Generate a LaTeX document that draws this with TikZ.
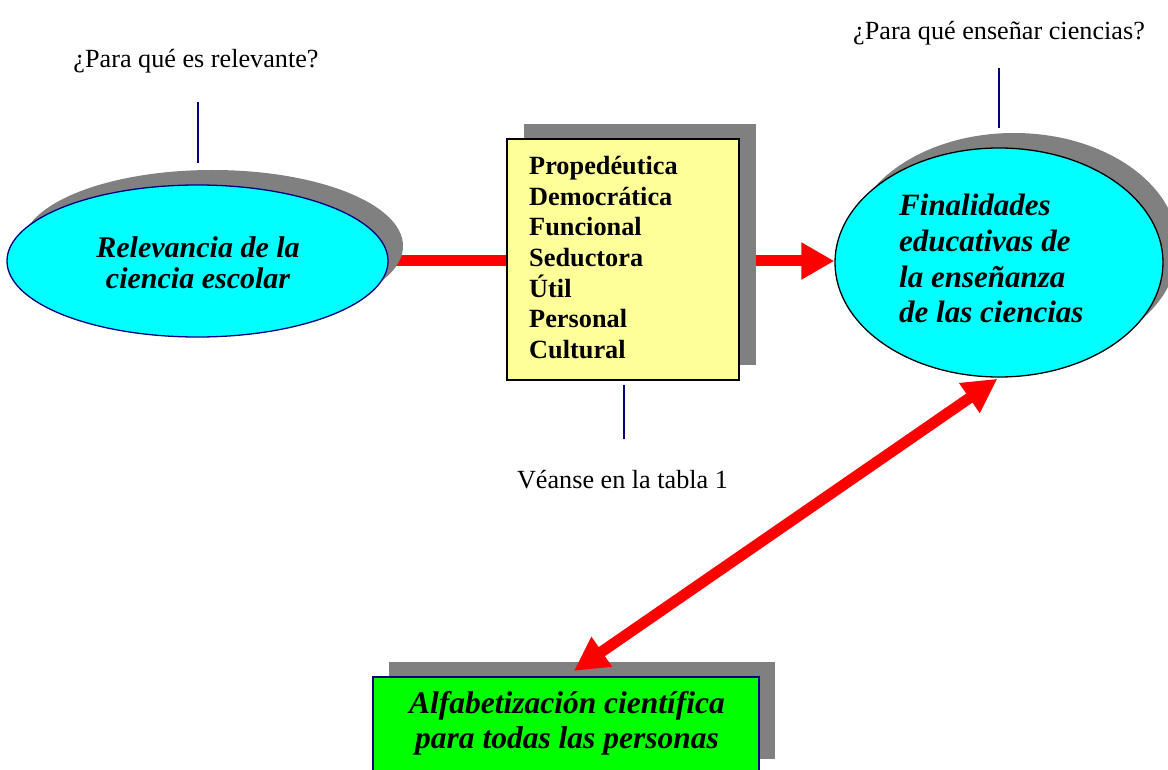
\documentclass[tikz,border=0pt]{standalone}
\usepackage{fontspec}
\setmainfont{Liberation Serif}
\usetikzlibrary{shapes.geometric,arrows.meta,shadows,backgrounds}
\definecolor{navyline}{HTML}{000080}
\definecolor{shadowgray}{HTML}{808080}
\definecolor{cyanfill}{HTML}{00FFFF}
\definecolor{yellowfill}{HTML}{FFFF99}
\definecolor{greenfill}{HTML}{00FF00}
\definecolor{arrowred}{HTML}{FF0000}
\begin{document}
\begin{tikzpicture}[x=1pt,y=-1pt,
  shadowed/.style={drop shadow={shadow xshift=#1,shadow yshift=15pt,fill=shadowgray,opacity=1}},
  bubble/.style={ellipse,inner sep=0pt,fill=cyanfill,line width=1.3pt},
  plaintext/.style={inner sep=0pt,anchor=base,font=\fontsize{26.2}{30}\selectfont},
  bigtext/.style={inner sep=0pt,font=\fontsize{#1}{#1}\selectfont\bfseries\itshape},
  tick/.style={draw=navyline,line width=1.5pt},
  redarrow/.style={draw=arrowred,line width=11pt,arrows={-{Triangle[length=33pt,width=35pt]}}},
  reddouble/.style={draw=arrowred,line width=11pt,arrows={{Triangle[length=34pt,width=34pt]}-{Triangle[length=34pt,width=34pt]}}}
]
\useasboundingbox (0,0) rectangle (1168,770);
\clip (0,0) rectangle (1168,770);

% shapes
\node[bubble,draw=navyline,minimum width=381pt,minimum height=152pt,shadowed=15pt] (e1) at (197.5,261) {};
\node[rectangle,draw=black,fill=yellowfill,line width=1.3pt,minimum width=232pt,minimum height=241pt,inner sep=0pt,shadowed=17pt] (box) at (623,259.5) {};
\node[bubble,draw=black,minimum width=328pt,minimum height=229pt,shadowed=15pt] (e2) at (999,262.5) {};
\node[rectangle,draw=navyline,fill=greenfill,line width=1.3pt,minimum width=386pt,minimum height=97pt,inner sep=0pt,shadowed=16pt] (g) at (566,725.5) {};

% texts inside shapes
\node[bigtext=30,align=center,anchor=north,text height=,font=\fontsize{30}{31}\selectfont\bfseries\itshape] (e1t) at (198,236.5) {Relevancia de la\\ciencia escolar};
\node[inner sep=0pt,align=left,anchor=north west,font=\fontsize{26.3}{30.7}\selectfont\bfseries] (boxt) at (529,156) {Propedéutica\\Democrática\\Funcional\\Seductora\\Útil\\Personal\\Cultural};
\node[inner sep=0pt,align=left,anchor=north west,font=\fontsize{31}{35.7}\selectfont\bfseries\itshape] (e2t) at (899,194) {Finalidades\\educativas de\\la enseñanza\\de las ciencias};
\node[inner sep=0pt,align=center,anchor=north,font=\fontsize{31.5}{35}\selectfont\bfseries\itshape] (gt) at (567,691.5) {Alfabetización científica\\para todas las personas};

% plain labels
\node[plaintext] (q1) at (196,68) {¿Para qué es relevante?};
\node[plaintext] (q2) at (999,40) {¿Para qué enseñar ciencias?};
\node[plaintext] (q3) at (622.5,488) {Véanse en la tabla 1};

% tick lines
\coordinate (t1a) at (198,102);
\coordinate (t1b) at (198,163);
\coordinate (t2a) at (999,68);
\coordinate (t2b) at (999,128);
\coordinate (t3a) at (624,385);
\coordinate (t3b) at (624,439);
\draw[tick] (t1a) -- (t1b);
\draw[tick] (t2a) -- (t2b);
\draw[tick] (t3a) -- (t3b);

% arrows
\begin{pgfonlayer}{background}
\draw[redarrow] (e1.east) -- (e1.east -| e2.west);
\end{pgfonlayer}
\draw[reddouble,shorten <=2pt,shorten >=9.5pt] (e2.south) -- (g.north);
\end{tikzpicture}
\end{document}
